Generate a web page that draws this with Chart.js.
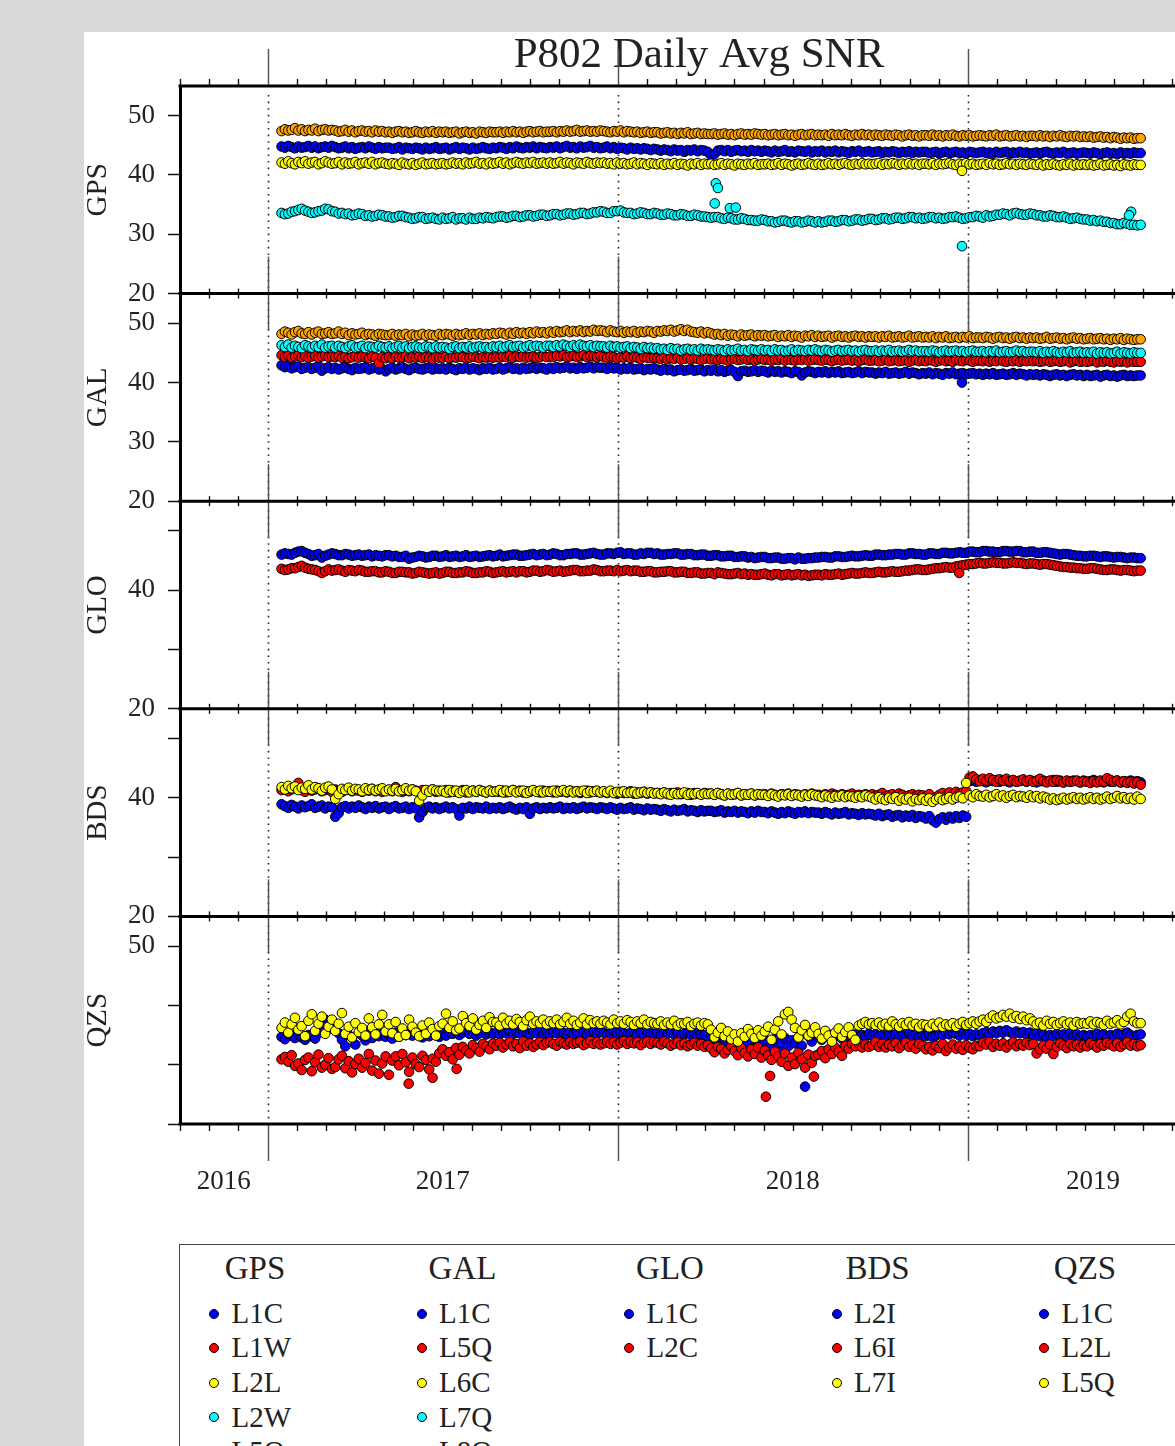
<!DOCTYPE html>
<html>
<head>
<meta charset="utf-8">
<title>P802 Daily Avg SNR</title>
<script src="https://cdn.jsdelivr.net/npm/chart.js@4.4.1/dist/chart.umd.min.js"></script>
<style>
  html, body { margin: 0; padding: 0; }
  body {
    width: 1175px; height: 1446px; overflow: hidden; position: relative;
    background: #d9d9d9; color: #222;
    font-family: "Liberation Serif", "Times New Roman", serif;
  }
  .sheet { position: absolute; left: 84px; top: 32px; width: 1400px; height: 1600px; background: #fff; }
  #snrChart { position: absolute; left: 84px; top: 32px; }
  .legend-box {
    position: absolute; left: 179px; top: 1244px; width: 1200px; height: 400px;
    border: 1.5px solid #444; box-sizing: border-box;
  }
  .legend-head { position: absolute; width: 140px; text-align: center; font-size: 33px; line-height: 33px; }
  .legend-item { position: absolute; font-size: 29px; line-height: 29px; white-space: nowrap; }
  .legend-dot {
    position: absolute; width: 10px; height: 10px; border-radius: 50%;
    border: 1px solid #000; box-sizing: border-box;
  }
</style>
</head>
<body>
<div class="sheet"></div>
<canvas id="snrChart" width="1220" height="1190"></canvas>
<div class="legend-box"></div>
<div id="legend"></div>
<script>
// twice-weekly samples of the daily averages, first one mid January 2017
const START_YEAR = 2017.04;
const STEP = 3.5 / 365.25;
const X_MIN = 2016.75;
const X_MAX = 2019.714;

const yearLines = [2017, 2018, 2019];
const yearLabels = ["2016", "2017", "2018", "2019"];
const yearLabelPos = [2016.875, 2017.5, 2018.5, 2019.357];

const systems = ["GPS", "GAL", "GLO", "BDS", "QZS"];
const yTicks = [20, 30, 40, 50];
const yLabelled = {
  GPS: [20, 30, 40, 50],
  GAL: [20, 30, 40, 50],
  GLO: [20, 40],
  BDS: [20, 40],
  QZS: [50],
};
const signals = {
  GPS: ["L1C", "L1W", "L2L", "L2W", "L5Q"],
  GAL: ["L1C", "L5Q", "L6C", "L7Q", "L8Q"],
  GLO: ["L1C", "L2C"],
  BDS: ["L2I", "L6I", "L7I"],
  QZS: ["L1C", "L2L", "L5Q"],
};
const signalColors = ["#0000ff", "#ff0000", "#ffff00", "#00ffff", "#ffa500"];

// ---- GPS ----
const gpsL1C = [
  44.8,44.6,44.9,44.7,44.5,44.8,44.6,44.7,44.9,44.6,44.8,44.5,44.7,44.8,44.6,44.9,
  44.7,44.5,44.6,44.8,44.5,44.7,44.4,44.6,44.7,44.5,44.8,44.6,44.4,44.7,44.5,44.6,
  44.6,44.4,44.5,44.7,44.3,44.6,44.5,44.4,44.6,44.5,44.3,44.6,44.4,44.5,44.7,44.4,
  44.5,44.6,44.3,44.5,44.7,44.4,44.6,44.5,44.3,44.6,44.4,44.5,44.7,44.5,44.4,44.6,
  44.5,44.7,44.6,44.4,44.7,44.5,44.8,44.6,44.5,44.7,44.6,44.8,44.5,44.7,44.6,44.5,
  44.7,44.6,44.8,44.5,44.7,44.9,44.6,44.7,44.5,44.8,44.6,44.7,44.9,44.6,44.7,44.5,
  44.6,44.8,44.5,44.7,44.4,44.6,44.5,44.3,44.6,44.4,44.5,44.3,44.5,44.4,44.2,44.4,
  44.3,44.1,44.3,44.2,44.0,44.3,44.1,44.2,43.9,44.2,44.1,44.3,44.0,44.2,44.1,43.9,
  43.3,43.5,44.1,44.2,44.0,44.2,43.9,44.1,44.2,44.0,44.1,43.9,44.2,44.0,44.1,43.9,
  44.1,44.0,43.8,44.1,43.9,44.0,44.2,43.9,44.0,43.8,44.1,44.0,43.9,44.1,43.8,44.0,
  43.9,44.1,43.8,44.0,43.9,44.1,43.8,44.0,43.9,43.7,44.0,43.9,44.1,43.8,43.9,44.0,
  43.8,43.9,44.0,43.7,43.9,43.8,44.0,43.9,43.7,43.9,43.8,44.0,43.7,43.9,43.8,43.9,
  43.9,43.7,43.8,43.9,43.6,43.8,43.9,43.7,43.8,43.9,43.7,43.8,43.6,43.9,43.8,43.7,
  43.8,43.9,43.7,43.8,43.6,43.9,43.7,43.8,43.9,43.6,43.8,43.7,43.9,43.7,43.8,43.6,
  43.7,43.8,43.6,43.8,43.9,43.7,43.6,43.8,43.7,43.9,43.6,43.7,43.8,43.6,43.7,43.8,
  43.7,43.6,43.8,43.7,43.5,43.7,43.8,43.6,43.7,43.5,43.8,43.6,43.7,43.6,43.8,43.7,
  43.7];
const gpsL1W = [];
const gpsL2L = [
  42.1,41.9,42.3,42.0,41.8,42.2,42.0,42.3,41.9,42.1,42.2,41.8,42.0,42.3,42.1,41.9,
  42.0,42.2,41.8,42.1,41.9,42.0,42.2,41.8,42.0,42.1,41.9,42.2,41.8,42.0,42.1,41.9,
  41.8,42.0,41.9,41.7,42.1,41.9,41.8,42.0,41.7,41.9,42.1,41.8,41.9,42.0,41.8,41.9,
  42.0,41.8,41.9,42.1,41.9,42.0,41.8,42.1,41.9,42.0,42.2,41.9,42.0,41.8,42.1,41.9,
  42.0,42.2,41.9,42.1,41.8,42.0,42.2,42.0,41.9,42.1,42.0,42.2,41.9,42.0,42.1,41.9,
  42.1,41.9,42.0,42.2,41.9,42.1,42.0,41.8,42.1,42.0,41.9,42.2,42.0,41.9,42.1,42.0,
  42.1,41.9,42.0,41.8,42.1,41.9,42.0,41.8,41.9,42.1,41.8,42.0,41.9,41.7,42.0,41.9,
  41.8,42.0,41.7,41.9,41.8,42.0,41.7,41.9,41.8,41.6,41.9,41.8,42.0,41.7,41.9,41.8,
  41.9,41.7,41.8,42.0,41.7,41.9,41.8,41.6,41.9,41.8,41.7,41.9,41.8,42.0,41.7,41.8,
  41.8,41.9,41.7,41.8,42.0,41.7,41.9,41.8,41.6,41.8,41.9,41.7,41.8,42.0,41.8,41.7,
  41.9,41.7,41.8,42.0,41.8,41.9,41.7,41.9,42.0,41.8,41.7,41.9,41.8,42.0,41.8,41.9,
  41.8,41.9,42.0,41.7,41.9,41.8,42.0,41.9,41.7,41.9,41.8,42.0,41.8,41.9,41.7,41.9,
  41.9,41.8,42.0,41.7,41.9,41.8,41.9,42.0,41.8,41.7,41.9,41.8,42.0,41.8,41.9,41.7,
  41.8,41.9,41.7,42.0,41.8,41.9,41.7,41.8,42.0,41.8,41.9,41.7,41.9,41.8,41.7,41.9,
  41.8,41.7,41.9,41.6,41.8,41.7,41.9,41.7,41.6,41.8,41.7,41.9,41.6,41.8,41.7,41.8,
  41.7,41.8,41.6,41.7,41.9,41.6,41.7,41.8,41.6,41.7,41.5,41.8,41.7,41.6,41.8,41.7,
  41.7];
const gpsL2W = [
  33.6,33.4,33.5,33.8,33.9,34.1,34.3,34.0,33.8,33.6,33.7,33.9,34.0,34.3,34.2,33.9,
  33.8,33.5,33.6,33.4,33.5,33.2,33.3,33.5,33.4,33.1,33.2,33.0,33.1,33.3,33.2,33.0,
  33.0,32.8,32.9,33.1,33.1,32.9,32.8,32.6,32.7,32.9,32.9,32.6,32.7,32.8,32.6,32.5,
  32.8,32.6,32.7,32.9,32.5,32.7,32.7,32.5,32.8,32.6,32.6,32.8,32.7,32.9,32.8,32.7,
  32.9,33.0,33.0,32.8,32.9,33.1,33.1,32.9,33.0,33.2,33.2,33.0,33.1,33.3,33.3,33.1,
  33.2,33.4,33.4,33.2,33.3,33.5,33.5,33.3,33.4,33.6,33.6,33.4,33.5,33.7,33.7,33.9,
  33.8,33.6,33.6,33.9,33.9,34.0,33.7,33.6,33.6,33.4,33.5,33.7,33.6,33.4,33.4,33.6,
  33.5,33.3,33.3,33.5,33.4,33.2,33.2,33.4,33.3,33.1,33.1,33.3,33.2,33.0,33.0,32.9,
  32.8,32.9,32.9,32.7,32.6,32.8,32.7,32.5,32.5,32.7,32.6,32.4,32.4,32.3,32.3,32.5,
  32.4,32.2,32.2,32.0,32.1,32.3,32.3,32.1,32.0,32.2,32.2,32.0,32.1,32.3,32.2,32.0,
  32.2,32.0,32.1,32.3,32.3,32.1,32.2,32.4,32.4,32.2,32.3,32.5,32.5,32.3,32.4,32.6,
  32.6,32.4,32.5,32.7,32.7,32.5,32.6,32.8,32.8,32.6,32.7,32.9,32.9,32.7,32.8,32.6,
  32.7,32.9,32.9,32.7,32.8,32.6,32.7,32.9,32.9,33.0,32.8,32.6,32.7,32.9,32.9,33.1,
  33.0,32.8,33.2,33.0,33.1,33.3,33.3,33.5,33.4,33.2,33.5,33.6,33.4,33.3,33.3,33.5,
  33.4,33.2,33.2,33.0,33.0,33.2,33.1,32.9,32.9,33.0,32.8,32.6,32.7,32.8,32.6,32.5,
  32.5,32.3,32.4,32.2,32.3,32.1,32.1,31.9,31.9,31.7,31.7,31.9,31.8,31.6,31.6,31.5,
  31.6];
const gpsL5Q = [
  47.4,47.7,47.5,47.6,47.9,47.5,47.7,47.4,47.6,47.5,47.8,47.4,47.6,47.7,47.5,47.6,
  47.5,47.3,47.4,47.6,47.3,47.5,47.2,47.4,47.5,47.3,47.4,47.2,47.5,47.3,47.4,47.2,
  47.3,47.1,47.3,47.4,47.2,47.3,47.1,47.2,47.4,47.2,47.1,47.3,47.2,47.4,47.1,47.3,
  47.2,47.3,47.1,47.2,47.3,47.0,47.2,47.3,47.1,47.2,47.0,47.3,47.2,47.1,47.3,47.2,
  47.2,47.3,47.1,47.3,47.2,47.4,47.2,47.3,47.1,47.3,47.4,47.2,47.3,47.4,47.2,47.3,
  47.3,47.4,47.2,47.4,47.3,47.5,47.3,47.4,47.6,47.3,47.4,47.5,47.3,47.4,47.3,47.5,
  47.4,47.3,47.2,47.4,47.3,47.5,47.2,47.4,47.3,47.2,47.3,47.1,47.2,47.3,47.1,47.2,
  47.2,47.0,47.1,47.2,47.0,47.1,46.9,47.1,47.0,47.2,46.9,47.0,47.1,46.9,47.0,46.9,
  46.9,47.0,46.8,46.9,47.0,46.8,46.9,46.7,46.9,47.0,46.8,46.9,46.8,47.0,46.9,46.8,
  46.9,46.7,46.8,46.9,46.7,46.8,46.9,46.7,46.8,46.6,46.8,46.9,46.7,46.8,46.9,46.7,
  46.8,46.7,46.8,46.6,46.9,46.7,46.8,46.7,46.9,46.7,46.6,46.8,46.7,46.9,46.7,46.8,
  46.6,46.8,46.7,46.6,46.8,46.7,46.6,46.8,46.7,46.5,46.7,46.8,46.6,46.7,46.5,46.7,
  46.7,46.6,46.8,46.6,46.7,46.5,46.7,46.6,46.8,46.6,46.5,46.7,46.6,46.7,46.5,46.6,
  46.7,46.6,46.5,46.7,46.6,46.8,46.5,46.6,46.7,46.5,46.6,46.7,46.5,46.6,46.4,46.6,
  46.6,46.5,46.7,46.5,46.6,46.4,46.6,46.5,46.7,46.5,46.4,46.6,46.5,46.6,46.4,46.5,
  46.4,46.5,46.3,46.4,46.5,46.3,46.4,46.2,46.4,46.3,46.1,46.3,46.2,46.3,46.1,46.2,
  46.2];

// ---- GAL ----
const galL1C = [
  42.9,42.6,42.8,42.4,42.6,42.7,42.3,42.5,42.6,42.3,42.5,42.8,42.0,42.4,42.6,42.3,
  42.5,42.2,42.4,42.6,42.3,42.1,42.5,42.3,42.4,42.6,42.2,42.4,42.5,42.2,42.3,41.9,
  42.3,42.5,42.2,42.4,42.6,42.3,42.1,42.4,42.5,42.3,42.2,42.4,42.5,42.2,42.4,42.3,
  42.4,42.2,42.5,42.3,42.1,42.4,42.3,42.5,42.2,42.4,42.3,42.1,42.4,42.3,42.5,42.2,
  42.3,42.5,42.2,42.4,42.6,42.3,42.4,42.2,42.5,42.3,42.4,42.6,42.3,42.5,42.4,42.2,
  42.5,42.3,42.6,42.4,42.5,42.7,42.4,42.5,42.3,42.6,42.4,42.5,42.7,42.4,42.6,42.5,
  42.5,42.3,42.6,42.4,42.5,42.2,42.4,42.3,42.5,42.2,42.3,42.4,42.1,42.3,42.2,42.4,
  42.2,42.0,42.3,42.1,42.2,41.9,42.1,42.2,42.0,42.1,42.3,42.0,42.1,42.2,41.9,42.1,
  42.0,42.2,41.9,42.1,41.8,42.0,42.1,41.8,41.1,41.9,42.0,41.8,41.9,42.1,41.8,42.0,
  41.9,41.7,42.0,41.8,41.9,41.7,41.9,41.8,41.6,41.9,41.8,41.2,41.7,41.9,41.8,41.6,
  41.8,41.7,41.9,41.6,41.8,41.7,41.9,41.6,41.7,41.8,41.6,41.7,41.9,41.6,41.8,41.7,
  41.7,41.5,41.7,41.6,41.8,41.5,41.6,41.7,41.5,41.6,41.8,41.5,41.7,41.6,41.4,41.6,
  41.5,41.7,41.4,41.6,41.5,41.3,41.6,41.5,41.7,41.4,41.5,41.6,41.4,41.5,41.6,41.4,
  41.5,41.3,41.5,41.4,41.6,41.3,41.4,41.5,41.3,41.4,41.6,41.3,41.5,41.4,41.2,41.4,
  41.3,41.4,41.2,41.4,41.3,41.1,41.3,41.4,41.2,41.3,41.1,41.3,41.4,41.2,41.3,41.1,
  41.3,41.1,41.2,41.3,41.0,41.2,41.3,41.1,41.2,41.0,41.2,41.3,41.1,41.2,41.1,41.2,
  41.2];
const galL5Q = [
  44.6,44.3,44.5,44.2,44.4,44.6,44.3,44.5,44.2,44.4,44.5,44.2,44.4,44.6,44.3,44.4,
  44.3,44.5,44.2,44.4,44.1,44.3,44.5,44.2,44.4,44.3,44.1,44.4,44.2,43.3,44.3,44.1,
  44.3,44.1,44.4,44.2,44.3,44.5,44.1,44.3,44.2,44.4,44.1,44.3,44.2,44.0,44.3,44.2,
  44.2,44.4,44.1,44.3,44.2,44.4,44.3,44.1,44.2,44.4,44.3,44.1,44.3,44.2,44.4,44.2,
  44.3,44.2,44.4,44.3,44.5,44.2,44.4,44.3,44.5,44.2,44.3,44.4,44.2,44.3,44.5,44.3,
  44.4,44.3,44.5,44.4,44.6,44.3,44.4,44.5,44.3,44.4,44.6,44.3,44.5,44.4,44.3,44.5,
  44.3,44.2,44.4,44.3,44.1,44.3,44.2,44.4,44.1,44.3,44.2,44.0,44.3,44.2,44.1,44.2,
  44.1,44.0,44.2,43.9,44.1,44.0,44.2,43.9,44.0,44.1,43.9,44.1,44.0,43.8,44.0,44.1,
  43.9,44.0,43.8,44.0,43.9,43.7,43.9,44.0,43.8,43.9,44.1,43.8,43.9,43.7,43.9,44.0,
  43.8,43.9,43.7,43.9,43.8,44.0,43.7,43.9,43.8,43.7,43.9,43.8,44.0,43.7,43.8,43.9,
  43.8,43.7,43.9,43.8,43.6,43.8,43.9,43.7,43.8,43.9,43.7,43.8,43.6,43.8,43.9,43.7,
  43.7,43.8,43.6,43.7,43.9,43.6,43.7,43.8,43.6,43.7,43.8,43.5,43.7,43.8,43.6,43.7,
  43.6,43.8,43.7,43.5,43.7,43.8,43.6,43.7,43.5,43.8,43.7,43.6,43.8,43.7,43.5,43.7,
  43.7,43.6,43.8,43.5,43.7,43.6,43.8,43.6,43.5,43.7,43.6,43.8,43.5,43.7,43.6,43.7,
  43.6,43.7,43.5,43.6,43.8,43.5,43.6,43.7,43.5,43.6,43.7,43.4,43.6,43.7,43.5,43.6,
  43.5,43.6,43.7,43.4,43.6,43.5,43.7,43.5,43.4,43.6,43.5,43.6,43.4,43.6,43.5,43.5,
  43.5];
const galL6C = [];
const galL7Q = [
  46.3,46.0,46.4,45.9,46.2,46.0,45.8,46.3,46.1,45.9,46.2,46.0,46.4,45.9,46.1,46.2,
  45.9,46.2,46.0,45.8,46.1,46.3,45.9,46.0,46.2,45.8,46.1,46.0,45.9,46.2,46.0,45.9,
  46.1,45.8,46.0,46.2,45.9,46.1,45.8,46.0,46.1,45.9,45.8,46.1,46.0,45.8,46.1,45.9,
  46.0,45.9,45.7,46.0,46.1,45.8,46.0,45.9,46.1,45.8,46.0,46.1,45.9,46.0,45.8,46.1,
  46.0,46.2,45.9,46.1,46.3,46.0,46.1,46.2,45.9,46.1,46.3,46.0,46.2,46.1,45.9,46.2,
  46.2,46.0,46.3,46.1,46.4,46.2,46.0,46.3,46.1,46.4,46.2,46.1,46.3,46.0,46.2,46.1,
  46.1,45.9,46.2,46.0,46.1,45.9,46.0,46.1,45.8,46.0,45.9,45.7,46.0,45.8,45.9,45.7,
  45.8,45.6,45.7,45.5,45.8,45.6,45.7,45.4,45.6,45.7,45.5,45.6,45.4,45.7,45.5,45.6,
  45.5,45.4,45.6,45.5,45.3,45.6,45.4,45.5,45.7,45.4,45.5,45.3,45.6,45.5,45.4,45.6,
  45.4,45.5,45.3,45.6,45.4,45.5,45.3,45.4,45.6,45.3,45.5,45.4,45.3,45.5,45.4,45.6,
  45.4,45.3,45.5,45.4,45.2,45.4,45.5,45.3,45.4,45.5,45.3,45.4,45.2,45.4,45.5,45.3,
  45.3,45.4,45.2,45.4,45.3,45.5,45.2,45.3,45.4,45.2,45.3,45.5,45.3,45.4,45.2,45.3,
  45.3,45.2,45.4,45.3,45.1,45.3,45.4,45.2,45.3,45.4,45.2,45.3,45.1,45.3,45.4,45.2,
  45.2,45.3,45.1,45.3,45.2,45.4,45.1,45.2,45.3,45.1,45.2,45.4,45.2,45.3,45.1,45.2,
  45.2,45.1,45.3,45.0,45.2,45.1,45.3,45.1,45.0,45.2,45.1,45.3,45.0,45.1,45.2,45.0,
  45.1,45.0,45.2,44.9,45.1,45.0,45.1,44.9,45.0,45.2,44.9,45.1,45.0,44.9,45.1,45.0,
  45.0];
const galL8Q = [
  48.2,48.6,48.4,48.1,48.5,48.7,48.3,48.2,48.5,48.1,48.4,48.6,48.2,48.3,48.5,48.2,
  48.3,48.6,48.2,48.4,48.0,48.3,48.1,48.2,48.4,48.0,48.2,48.1,47.9,48.2,48.1,48.0,
  48.0,48.2,47.9,48.1,48.0,48.2,47.8,48.1,47.9,48.0,48.2,47.9,48.1,48.0,47.9,48.2,
  48.0,48.2,48.1,47.9,48.2,48.0,48.1,48.3,48.0,48.2,48.1,48.3,48.0,48.2,48.1,48.3,
  48.2,48.4,48.3,48.1,48.4,48.2,48.5,48.3,48.4,48.2,48.5,48.3,48.6,48.4,48.5,48.3,
  48.6,48.4,48.7,48.5,48.6,48.8,48.5,48.7,48.6,48.8,48.5,48.7,48.6,48.9,48.7,48.8,
  48.7,48.5,48.8,48.6,48.5,48.7,48.4,48.6,48.5,48.7,48.4,48.6,48.5,48.7,48.6,48.4,
  48.7,48.6,48.8,48.7,48.9,48.6,48.8,49.0,48.7,48.9,48.6,48.5,48.4,48.6,48.3,48.5,
  48.3,48.1,48.2,48.0,48.2,47.9,48.1,48.0,47.8,48.1,47.9,48.0,48.1,47.8,48.0,47.9,
  48.0,47.8,47.9,48.0,47.7,47.9,47.8,48.0,47.7,47.9,47.8,47.6,47.9,47.8,48.0,47.7,
  47.9,47.7,47.8,47.9,47.6,47.8,47.9,47.7,47.8,47.6,47.8,47.9,47.7,47.8,47.6,47.8,
  47.7,47.8,47.6,47.8,47.7,47.9,47.6,47.7,47.8,47.6,47.7,47.9,47.6,47.7,47.8,47.6,
  47.7,47.6,47.8,47.5,47.7,47.6,47.8,47.5,47.6,47.7,47.5,47.7,47.6,47.8,47.5,47.6,
  47.6,47.5,47.7,47.6,47.4,47.6,47.7,47.5,47.6,47.4,47.6,47.7,47.5,47.6,47.4,47.6,
  47.5,47.6,47.4,47.5,47.7,47.4,47.5,47.6,47.4,47.5,47.3,47.5,47.6,47.4,47.5,47.3,
  47.4,47.5,47.3,47.4,47.5,47.3,47.4,47.2,47.4,47.3,47.5,47.2,47.4,47.3,47.2,47.3,
  47.3];

// ---- GLO ----
const gloL1C = [
  46.0,46.2,46.1,46.0,46.3,46.5,46.6,46.3,46.1,45.8,45.9,46.1,45.5,45.8,46.0,46.2,
  46.1,45.9,45.9,46.1,46.0,45.8,45.9,46.0,45.8,45.9,46.0,45.7,45.9,45.8,45.7,45.9,
  45.9,45.7,45.8,45.6,45.6,45.8,45.3,45.5,45.6,45.8,45.7,45.5,45.6,45.8,45.8,45.6,
  45.7,45.9,45.6,45.7,45.8,45.6,45.7,45.9,45.6,45.7,45.8,45.6,45.7,45.8,45.9,45.7,
  45.8,46.0,45.7,45.8,45.9,46.0,46.0,45.8,45.8,45.9,46.0,46.1,45.9,46.0,46.1,45.9,
  46.0,46.2,46.1,45.9,45.9,46.1,46.1,46.2,46.2,46.0,46.0,46.1,46.2,46.3,46.1,46.0,
  46.0,46.2,46.2,46.1,46.3,46.4,46.1,46.2,46.2,46.0,46.0,46.2,46.1,46.3,46.3,46.1,
  46.2,46.0,46.0,46.1,46.1,46.2,46.2,46.0,46.0,46.1,46.1,45.9,45.9,46.0,46.0,45.8,
  45.8,45.9,45.9,45.7,45.7,45.8,45.8,45.6,45.6,45.7,45.7,45.5,45.6,45.4,45.5,45.6,
  45.6,45.4,45.4,45.5,45.5,45.3,45.3,45.4,45.4,45.2,45.5,45.3,45.3,45.4,45.4,45.5,
  45.5,45.6,45.6,45.5,45.5,45.7,45.7,45.6,45.6,45.7,45.8,45.7,45.7,45.8,45.9,45.8,
  45.8,46.0,46.0,45.9,45.9,46.0,46.0,46.1,46.1,46.0,46.0,46.2,46.2,46.1,46.1,46.0,
  46.0,46.2,46.2,46.1,46.1,46.3,46.3,46.2,46.2,46.3,46.4,46.3,46.3,46.5,46.5,46.4,
  46.4,46.6,46.6,46.5,46.5,46.4,46.4,46.6,46.6,46.5,46.5,46.6,46.6,46.4,46.4,46.5,
  46.5,46.3,46.3,46.4,46.4,46.3,46.2,46.1,46.0,46.1,46.1,46.0,45.9,45.8,45.8,45.7,
  45.7,45.8,45.8,45.7,45.6,45.7,45.7,45.6,45.5,45.6,45.6,45.5,45.4,45.5,45.5,45.4,
  45.4];
const gloL2C = [
  43.6,43.4,43.5,43.7,43.7,43.9,44.1,43.8,43.6,43.5,43.4,43.2,42.9,43.2,43.5,43.3,
  43.4,43.5,43.3,43.1,43.4,43.3,43.2,43.4,43.3,43.1,43.1,43.2,43.2,43.0,43.0,43.2,
  43.1,42.9,42.9,43.1,43.1,43.0,43.0,42.8,42.9,43.1,43.0,42.9,42.8,42.9,43.0,42.8,
  42.9,43.1,43.1,42.9,42.9,43.0,43.0,43.2,43.1,42.9,42.9,43.0,43.0,43.2,43.1,42.9,
  43.0,43.1,43.2,43.0,43.1,43.2,43.0,43.2,43.2,43.0,43.1,43.3,43.3,43.1,43.2,43.4,
  43.3,43.1,43.2,43.3,43.1,43.2,43.3,43.4,43.4,43.2,43.2,43.3,43.3,43.5,43.4,43.2,
  43.2,43.3,43.3,43.2,43.4,43.2,43.3,43.4,43.2,43.3,43.3,43.1,43.1,43.2,43.2,43.0,
  43.0,43.1,43.1,43.2,43.2,43.0,43.0,43.1,43.1,42.9,42.9,43.0,43.0,42.8,42.8,42.9,
  42.9,42.7,43.0,42.9,42.8,42.7,42.7,42.8,42.9,42.7,42.8,42.6,42.7,42.6,42.6,42.7,
  42.8,42.6,42.5,42.7,42.7,42.5,42.6,42.7,42.5,42.6,42.7,42.5,42.6,42.4,42.5,42.6,
  42.6,42.5,42.7,42.6,42.6,42.7,42.8,42.6,42.7,42.8,42.9,42.8,42.8,42.9,43.0,42.9,
  42.9,43.0,43.1,43.0,43.0,43.1,43.2,43.1,43.1,43.2,43.3,43.3,43.4,43.5,43.5,43.4,
  43.4,43.5,43.6,43.7,43.7,43.8,43.9,43.8,43.8,44.0,44.1,44.2,44.3,44.4,44.4,44.5,
  44.6,44.5,44.5,44.6,44.7,44.6,44.6,44.5,44.5,44.6,44.7,44.6,44.6,44.5,44.4,44.5,
  44.5,44.4,44.3,44.4,44.4,44.3,44.2,44.1,44.0,43.9,43.9,43.8,43.8,43.7,43.7,43.6,
  43.6,43.7,43.7,43.6,43.5,43.4,43.4,43.5,43.5,43.4,43.3,43.4,43.4,43.3,43.2,43.3,
  43.3];

// ---- BDS ---- (first 205 samples before 2019, 52 after)
const bdsL2I = [
  38.9,38.6,38.3,38.8,38.5,38.2,38.7,38.4,38.6,38.9,38.3,38.5,38.7,38.2,38.5,38.4,
  36.8,37.4,38.4,38.6,38.2,38.5,38.3,38.7,38.4,38.1,38.5,38.3,38.6,38.2,38.4,38.5,
  38.1,38.4,38.6,38.2,38.3,38.5,38.1,38.4,38.2,36.7,37.6,38.3,38.5,38.2,38.4,38.1,
  38.3,38.5,38.2,38.4,38.1,37.0,38.3,38.2,38.5,38.1,38.4,38.3,38.2,38.5,38.1,38.3,
  38.2,38.4,38.1,38.3,38.5,38.2,38.0,38.3,38.1,38.4,37.3,38.2,38.4,38.1,38.3,38.2,
  38.4,38.2,38.3,38.5,38.1,38.3,38.2,38.4,38.1,38.3,38.5,38.2,38.4,38.3,38.1,38.4,
  38.3,38.1,38.4,38.2,38.0,38.3,38.1,38.2,38.4,38.0,38.2,38.1,37.9,38.2,38.0,38.1,
  38.0,37.8,38.1,37.9,37.7,38.0,37.8,37.9,38.1,37.7,37.9,37.8,37.6,37.9,37.7,37.8,
  37.8,37.6,37.7,37.9,37.5,37.7,37.6,37.8,37.5,37.7,37.6,37.4,37.7,37.5,37.8,37.6,
  37.6,37.4,37.7,37.5,37.3,37.6,37.4,37.7,37.5,37.3,37.6,37.5,37.7,37.4,37.6,37.5,
  37.5,37.3,37.6,37.4,37.2,37.5,37.3,37.4,37.6,37.2,37.4,37.3,37.1,37.4,37.2,37.3,
  37.2,37.0,37.3,36.9,37.1,37.2,36.8,37.0,37.1,36.7,37.0,36.8,37.1,36.6,36.9,36.8,
  36.5,36.9,36.2,35.8,36.4,36.7,36.3,36.8,36.5,36.9,36.6,37.0,36.8,
  42.8,42.9,42.7,43.0,42.8,42.6,42.9,42.8,43.0,42.7,42.9,42.8,42.6,42.9,42.7,42.8,
  43.0,42.7,42.9,42.8,42.6,42.8,42.9,42.7,42.8,43.0,42.7,42.9,42.6,42.8,42.7,42.9,
  42.8,42.6,42.9,42.7,42.8,43.0,42.7,42.8,42.6,42.9,42.7,42.8,42.9,42.6,42.8,42.7,
  42.9,42.7,42.8,42.6];
const bdsL6I = [
  41.3,41.6,41.1,41.4,41.7,42.5,41.3,41.0,41.5,41.2,41.4,41.6,41.1,41.3,41.5,41.0,
  41.4,41.2,41.0,41.3,41.5,41.1,41.3,41.2,41.0,41.4,41.2,41.5,41.1,41.3,41.0,41.2,
  41.3,41.1,41.8,41.2,41.0,41.3,41.1,41.4,41.2,41.0,41.3,41.1,41.2,41.4,41.0,41.2,
  41.1,41.3,40.9,41.2,41.0,41.1,41.3,40.9,41.1,41.2,41.0,41.3,41.1,40.9,41.2,41.0,
  41.1,41.0,41.2,40.9,41.1,41.3,41.0,41.2,40.9,41.1,41.0,41.2,41.1,40.9,41.2,41.0,
  41.1,40.9,41.2,41.0,41.1,40.9,41.2,41.0,41.1,40.8,41.0,41.2,40.9,41.1,41.0,40.9,
  41.0,40.8,41.1,40.9,40.7,41.0,40.8,40.9,41.1,40.7,40.9,40.8,41.0,40.7,40.9,40.8,
  40.8,40.7,40.9,40.6,40.8,40.7,40.9,40.6,40.7,40.8,40.5,40.8,40.7,40.6,40.8,40.7,
  40.7,40.5,40.8,40.6,40.4,40.7,40.5,40.6,40.8,40.4,40.6,40.5,40.7,40.4,40.6,40.5,
  40.6,40.4,40.7,40.5,40.3,40.6,40.5,40.7,40.4,40.6,40.5,40.3,40.6,40.4,40.7,40.5,
  40.5,40.3,40.6,40.4,40.7,40.5,40.3,40.6,40.4,40.5,40.7,40.3,40.5,40.4,40.6,40.4,
  40.6,40.3,40.5,40.8,40.2,40.4,40.6,40.3,40.7,40.5,40.2,40.4,40.6,40.3,40.5,40.4,
  40.2,40.6,39.6,40.1,40.5,40.8,40.3,40.9,40.6,41.0,40.7,40.9,41.1,
  43.4,43.6,43.1,42.8,43.2,42.9,43.3,43.0,42.7,43.1,42.9,43.2,42.8,43.0,42.7,42.9,
  43.1,42.8,43.0,42.7,42.9,43.2,42.8,42.6,42.9,42.7,43.0,42.8,42.6,42.9,42.7,42.8,
  42.9,42.6,42.8,42.7,42.5,42.8,42.6,42.9,42.7,43.3,43.0,42.7,42.9,42.6,42.8,42.5,
  42.7,42.4,42.6,42.2];
const bdsL7I = [
  41.8,41.4,42.0,41.6,41.9,41.3,41.7,41.5,42.1,41.4,41.8,41.6,41.2,41.7,41.9,41.4,
  39.8,40.6,41.5,41.3,41.7,41.2,41.5,41.4,41.1,41.6,41.3,41.5,41.2,41.4,41.6,41.1,
  41.4,41.2,41.5,41.1,41.3,41.6,41.2,41.4,41.1,39.5,40.4,41.3,41.0,41.4,41.2,41.1,
  41.2,40.9,41.3,41.0,41.2,40.8,41.1,41.3,40.9,41.2,41.0,41.3,41.1,40.9,41.2,41.0,
  41.1,41.3,40.9,41.2,41.0,41.3,40.9,41.1,41.2,40.8,41.1,41.3,41.0,41.2,40.9,41.1,
  41.0,41.2,40.9,41.1,41.3,41.0,41.2,40.9,41.1,41.0,41.2,40.8,41.1,41.0,41.2,40.9,
  41.1,40.9,41.2,40.8,41.0,40.9,41.1,40.8,40.9,41.0,40.7,40.9,41.0,40.8,40.9,40.7,
  40.8,40.6,40.9,40.7,40.5,40.8,40.6,40.7,40.9,40.5,40.7,40.6,40.8,40.5,40.7,40.6,
  40.7,40.5,40.8,40.6,40.4,40.7,40.5,40.6,40.8,40.4,40.6,40.5,40.7,40.4,40.6,40.5,
  40.5,40.3,40.6,40.4,40.2,40.5,40.4,40.6,40.3,40.5,40.4,40.2,40.5,40.3,40.6,40.4,
  40.3,40.1,40.4,40.2,40.0,40.3,40.2,40.4,40.1,40.3,40.2,40.0,40.3,40.1,40.4,40.2,
  40.0,39.7,40.1,39.8,39.6,40.0,39.8,40.1,39.5,39.9,39.7,40.0,39.4,39.8,39.6,39.9,
  39.5,39.9,39.3,39.7,40.0,39.6,39.8,40.1,39.7,40.0,40.2,39.9,42.5,
  40.4,40.1,40.6,40.3,40.2,40.5,40.1,40.3,40.6,40.2,40.4,40.0,40.3,40.5,40.1,40.3,
  40.2,40.0,40.4,40.1,40.3,39.9,40.2,40.0,39.7,39.9,39.6,39.8,40.0,39.7,39.9,40.1,
  39.8,40.0,39.7,39.9,40.1,39.8,40.0,39.7,39.9,40.2,39.8,40.0,40.3,39.9,40.1,39.8,
  40.0,39.7,40.2,39.8];

// ---- QZS ----
const qzsL1C = [
  34.7,34.3,35.2,34.9,34.5,35.1,34.6,34.2,35.0,34.8,34.4,35.3,36.8,37.6,37.2,36.1,
  35.9,35.3,34.2,33.1,35.0,34.6,33.4,35.3,34.9,34.1,35.6,34.5,35.2,34.8,35.4,34.7,
  35.1,34.4,35.4,34.7,35.3,35.0,35.6,34.9,35.4,35.1,34.6,35.2,34.8,35.5,35.0,34.7,
  35.3,34.9,35.5,35.2,35.6,35.0,35.4,35.7,35.2,35.5,34.9,35.3,35.6,35.1,35.4,35.2,
  35.4,35.1,35.6,35.3,35.7,35.2,35.5,35.3,35.6,35.4,35.0,35.5,35.3,35.7,35.2,35.4,
  35.2,35.5,35.3,35.7,35.4,35.1,35.5,35.2,35.6,35.3,35.5,35.1,35.4,35.6,35.2,35.5,
  35.4,35.1,35.3,35.6,35.2,35.5,35.3,35.0,35.4,35.6,35.2,35.4,35.1,35.5,35.3,35.2,
  35.3,35.0,35.4,35.2,35.5,35.1,35.3,34.9,35.2,35.4,35.0,35.3,34.8,35.1,35.0,34.7,
  34.8,34.1,34.4,33.8,34.2,33.6,34.0,32.9,33.5,34.3,32.6,33.8,34.2,33.1,33.9,33.4,
  33.7,34.0,33.3,34.3,32.8,33.7,34.5,33.1,34.1,33.6,34.6,33.2,26.3,34.8,33.9,35.0,
  34.7,34.2,34.9,35.1,34.6,34.8,35.0,34.4,35.2,34.7,34.9,35.1,34.6,35.0,34.8,35.2,
  34.9,35.1,34.8,35.0,34.7,35.2,34.9,35.1,34.6,35.0,34.8,35.3,34.9,35.1,34.7,35.0,
  34.8,35.1,34.7,34.9,35.2,35.0,35.4,35.1,35.5,35.2,34.9,35.3,35.0,35.2,34.8,35.1,
  35.0,35.3,35.5,35.2,35.6,35.3,35.7,35.4,35.8,35.5,35.2,35.6,35.3,35.5,35.1,35.4,
  35.0,35.3,34.8,35.1,34.6,35.0,34.8,35.2,34.9,35.1,34.7,35.3,34.9,35.1,34.6,35.0,
  34.8,35.0,34.7,35.2,34.9,35.1,34.6,35.0,34.8,35.2,34.9,35.1,35.4,35.0,34.7,35.0,
  35.1];
const qzsL2L = [
  30.9,31.3,30.5,31.6,29.8,30.2,29.1,30.8,31.2,28.9,30.4,31.7,29.5,30.0,31.1,29.3,
  29.6,30.9,31.5,29.4,30.6,28.7,30.1,31.0,29.5,30.3,31.8,29.0,30.7,28.5,30.2,31.4,
  28.3,30.7,31.4,29.9,31.8,30.4,28.8,31.2,30.1,29.6,31.5,30.8,29.2,31.0,30.5,31.9,
  32.6,31.5,32.1,30.9,32.8,31.7,33.0,32.4,31.9,33.3,32.8,32.2,33.5,33.1,32.6,33.6,
  33.2,33.7,32.9,33.4,33.8,33.1,33.5,32.8,33.9,33.2,33.6,33.0,33.4,33.8,33.3,33.7,
  33.8,33.5,33.2,33.9,33.6,33.4,33.8,33.5,33.7,33.9,33.3,33.6,34.0,33.5,33.8,33.4,
  33.6,33.9,33.5,33.8,33.4,33.7,34.0,33.5,33.9,33.6,33.8,33.3,33.7,33.9,33.5,33.8,
  33.7,33.4,33.9,33.6,33.2,33.5,33.8,33.3,33.6,33.1,33.4,33.7,33.2,33.5,33.0,33.3,
  32.8,32.1,33.0,32.7,31.9,32.5,33.1,32.3,31.6,32.8,32.0,31.4,32.6,31.8,32.9,31.2,
  32.4,31.6,30.8,32.2,31.4,30.5,31.9,29.8,31.2,30.1,32.0,30.9,29.5,31.7,30.3,31.5,
  31.7,32.3,31.1,32.6,31.8,32.9,32.2,31.5,33.2,32.7,33.5,33.1,33.6,32.9,33.4,33.0,
  33.3,33.8,33.0,33.5,32.9,33.4,33.1,33.6,32.8,33.3,33.7,33.0,33.4,32.7,33.5,33.2,
  32.6,33.0,32.4,33.2,32.8,33.5,32.3,32.9,33.4,32.7,33.1,32.5,33.3,32.9,32.6,33.2,
  33.1,33.7,33.4,33.8,33.0,33.5,33.2,33.6,32.9,33.4,33.8,33.1,33.5,33.2,33.7,33.3,
  33.5,31.9,32.6,33.2,32.7,33.4,31.8,33.0,33.6,33.2,32.8,33.5,33.1,33.4,32.9,33.3,
  33.1,33.6,33.3,32.9,33.5,33.2,33.7,33.4,33.1,33.6,33.0,33.4,33.8,33.2,33.5,33.1,
  33.3];
const qzsL5Q = [
  36.2,37.1,35.4,36.8,37.9,35.9,36.5,34.8,37.4,38.5,35.7,36.9,38.1,35.2,36.4,37.6,
  35.7,36.9,38.7,35.2,36.4,34.6,37.0,35.5,36.2,34.9,37.8,36.3,35.1,36.8,38.4,35.6,
  36.8,35.3,37.2,34.7,36.1,35.0,37.6,36.4,35.4,34.8,36.6,35.2,37.1,36.0,34.9,36.5,
  36.9,38.6,36.2,37.3,35.8,36.1,38.2,37.0,36.5,37.8,35.9,36.7,37.4,36.2,38.0,37.2,
  37.1,36.6,37.9,36.9,37.4,36.8,37.7,37.2,36.5,37.5,38.1,36.9,37.3,37.0,37.6,36.8,
  37.3,37.0,37.6,36.8,37.2,37.9,36.9,37.4,36.7,37.1,37.8,36.8,37.5,37.0,37.3,36.9,
  37.4,37.1,36.8,37.6,37.0,37.3,36.9,37.5,37.2,36.7,37.3,37.0,37.6,36.8,37.2,37.0,
  36.9,37.3,36.7,37.1,36.8,37.4,36.6,37.0,36.9,37.2,36.5,36.9,37.1,36.6,37.0,36.8,
  35.9,34.6,35.4,36.2,34.8,35.6,34.3,35.1,33.9,35.3,34.7,36.0,35.2,34.5,35.8,34.9,
  35.6,36.4,34.2,35.9,37.3,35.1,38.5,38.9,37.6,36.2,34.6,35.8,36.7,34.9,35.4,36.3,
  35.2,34.4,35.7,34.9,33.9,35.4,36.1,34.7,35.5,36.3,35.0,34.2,36.6,36.9,37.2,36.8,
  37.0,36.7,37.1,36.6,36.9,36.5,37.3,36.8,36.4,37.0,36.7,37.2,36.6,36.9,36.3,36.8,
  36.7,36.3,36.9,36.5,37.1,36.4,36.8,36.6,37.0,36.4,36.9,37.2,36.7,37.0,37.3,36.9,
  37.3,37.6,37.2,37.9,38.3,37.8,38.0,38.4,38.1,38.6,37.9,38.2,37.7,38.1,37.5,37.8,
  37.3,36.8,37.1,36.6,37.4,36.9,37.2,36.7,37.0,37.3,36.8,37.1,36.6,37.2,36.9,37.0,
  36.9,37.3,36.8,37.2,37.0,36.7,37.4,36.9,37.1,37.5,36.8,37.2,38.1,38.6,37.3,37.0,
  37.0];

// isolated days off the sampling grid: [decimal year, SNR]
const outliers = {
  "GPS L2L": [[2018.983, 40.7]],
  "GPS L2W": [[2018.28, 38.6], [2018.286, 37.8], [2018.277, 35.2], [2018.32, 34.4],
              [2018.337, 34.5], [2018.983, 28.0], [2019.466, 33.8], [2019.46, 33.2]],
  "GAL L1C": [[2018.983, 40.0]],
  "GLO L2C": [[2018.975, 42.9]],
  "QZS L2L": [[2018.423, 24.6], [2018.435, 28.1], [2018.56, 28.0], [2017.403, 26.8],
              [2017.471, 27.8], [2017.54, 29.3]],
};

const series = {
  GPS: [gpsL1C, gpsL1W, gpsL2L, gpsL2W, gpsL5Q],
  GAL: [galL1C, galL5Q, galL6C, galL7Q, galL8Q],
  GLO: [gloL1C, gloL2C],
  BDS: [bdsL2I, bdsL6I, bdsL7I],
  QZS: [qzsL1C, qzsL2L, qzsL5Q],
};

const FONT = '"Liberation Serif", "Times New Roman", serif';
Chart.defaults.font.family = FONT;
Chart.defaults.color = "#222";

function buildDatasets() {
  const out = [];
  systems.forEach((sys) => {
    signals[sys].forEach((sig, k) => {
      const pts = series[sys][k].map((v, i) => ({ x: START_YEAR + i * STEP, y: v }));
      (outliers[sys + " " + sig] || []).forEach(([x, y]) => pts.push({ x, y }));
      out.push({
        label: sys + " " + sig,
        data: pts,
        xAxisID: "x",
        yAxisID: "y" + sys,
        showLine: false,
        pointStyle: "circle",
        pointRadius: 4.8,
        pointBorderWidth: 1,
        pointBorderColor: "#000",
        pointBackgroundColor: signalColors[k],
        // later signals of a panel are painted on top
        order: 10 - k,
      });
    });
  });
  return out;
}

function yScale(sys, weight) {
  return {
    type: "linear",
    position: "left",
    stack: "snr",
    stackWeight: 1,
    weight: weight,
    min: 20,
    max: 55,
    afterBuildTicks: (s) => {
      s.ticks = yTicks.map((v) => ({ value: v }));
    },
    afterFit: (s) => {
      s.width = 96;
    },
    ticks: {
      autoSkip: false,
      padding: 13,
      color: "#222",
      font: { size: 27 },
      callback: (v) => (yLabelled[sys].includes(v) ? String(v) : ""),
    },
    grid: {
      drawOnChartArea: false,
      drawTicks: true,
      tickLength: 12,
      tickWidth: 1.5,
      tickColor: "#111",
    },
    border: { display: true, width: 3, color: "#000" },
    title: {
      display: true,
      text: sys,
      color: "#222",
      font: { size: 29, lineHeight: 1 },
      padding: { top: 0, bottom: 0 },
    },
  };
}

const scales = {
  x: {
    type: "linear",
    position: "bottom",
    min: X_MIN,
    max: X_MAX,
    afterBuildTicks: (s) => {
      s.ticks = yearLabelPos.map((v) => ({ value: v }));
    },
    afterFit: (s) => {
      s.height = 98;
    },
    ticks: {
      autoSkip: false,
      maxRotation: 0,
      padding: 42,
      color: "#222",
      font: { size: 27 },
      callback: (v, i) => yearLabels[i],
    },
    grid: { display: false, drawTicks: false },
    border: { display: false },
  },
};
// bottom panel first: the last stacked left axis ends up on top
systems
  .slice()
  .reverse()
  .forEach((sys, idx) => {
    scales["y" + sys] = yScale(sys, idx + 1);
  });

// panel frames, month ticks and year lines, drawn with the chart's own scales
const panelFrame = {
  id: "panelFrame",
  beforeDatasetsDraw(chart) {
    const { ctx, scales: sc } = chart;
    const x = sc.x;
    ctx.save();
    ctx.strokeStyle = "#222";
    ctx.lineWidth = 1.6;
    ctx.setLineDash([1.6, 5]);
    systems.forEach((sys) => {
      const ys = sc["y" + sys];
      yearLines.forEach((yr) => {
        const px = Math.round(x.getPixelForValue(yr)) + 0.5;
        ctx.beginPath();
        ctx.moveTo(px, ys.top + 9);
        ctx.lineTo(px, ys.bottom - 2);
        ctx.stroke();
      });
    });
    ctx.restore();
  },
  afterDatasetsDraw(chart) {
    const { ctx, chartArea, scales: sc } = chart;
    const x = sc.x;
    const edges = [sc["y" + systems[0]].top].concat(systems.map((s) => sc["y" + s].bottom));
    const last = edges.length - 1;
    const months = [];
    for (let m = 0; X_MIN + m / 12 <= X_MAX + 1e-6; m++) months.push(X_MIN + m / 12);

    ctx.save();
    // monthly ticks, pointing out of each panel
    ctx.strokeStyle = "#111";
    ctx.lineWidth = 1.4;
    edges.forEach((ey, e) => {
      const up = e === last ? 0 : e === 0 ? 7 : 5;
      const down = e === 0 ? 0 : e === last ? 7 : 5;
      months.forEach((mv) => {
        if (Math.abs(mv - Math.round(mv)) < 1e-6) return;
        const px = Math.round(x.getPixelForValue(mv)) + 0.5;
        ctx.beginPath();
        ctx.moveTo(px, ey - up);
        ctx.lineTo(px, ey + down);
        ctx.stroke();
      });
    });
    // long year ticks
    ctx.strokeStyle = "#555";
    ctx.lineWidth = 1.5;
    edges.forEach((ey, e) => {
      const up = e === last ? 0 : 37;
      const down = e === 0 ? 0 : 37;
      yearLines.forEach((yr) => {
        const px = Math.round(x.getPixelForValue(yr)) + 0.5;
        ctx.beginPath();
        ctx.moveTo(px, ey - up);
        ctx.lineTo(px, ey + down);
        ctx.stroke();
      });
    });
    // heavy panel borders
    ctx.strokeStyle = "#000";
    ctx.lineWidth = 3;
    edges.forEach((ey) => {
      ctx.beginPath();
      ctx.moveTo(chartArea.left - 1.5, ey);
      ctx.lineTo(chartArea.right + 1.5, ey);
      ctx.stroke();
    });
    ctx.beginPath();
    ctx.moveTo(chartArea.right, edges[0]);
    ctx.lineTo(chartArea.right, edges[last]);
    ctx.stroke();
    ctx.restore();
  },
};

const chart = new Chart(document.getElementById("snrChart").getContext("2d"), {
  type: "scatter",
  data: { datasets: buildDatasets() },
  options: {
    responsive: false,
    animation: false,
    devicePixelRatio: 1,
    layout: { padding: { top: 0, left: 0, right: 86, bottom: 0 } },
    scales: scales,
    plugins: {
      legend: { display: false },
      tooltip: { enabled: false },
      title: {
        display: true,
        text: "P802 Daily Avg SNR",
        fullSize: false,
        color: "#222",
        font: { size: 43, weight: "normal", lineHeight: 1 },
        padding: { top: 2, bottom: 9 },
      },
    },
  },
  plugins: [panelFrame],
});

function buildLegend() {
  const box = document.getElementById("legend");
  systems.forEach((sys, c) => {
    const dotX = 214 + c * 207.5;
    const head = document.createElement("div");
    head.className = "legend-head";
    head.textContent = sys;
    head.style.left = dotX + 41 - 70 + "px";
    head.style.top = "1252px";
    box.appendChild(head);
    signals[sys].forEach((sig, k) => {
      const rowY = 1313.5 + k * 34.6;
      const dot = document.createElement("span");
      dot.className = "legend-dot";
      dot.style.left = dotX - 5 + "px";
      dot.style.top = rowY - 5 + "px";
      dot.style.background = signalColors[k];
      box.appendChild(dot);
      const txt = document.createElement("div");
      txt.className = "legend-item";
      txt.textContent = sig;
      txt.style.left = dotX + 17.5 + "px";
      txt.style.top = rowY - 14.7 + "px";
      box.appendChild(txt);
    });
  });
}

buildLegend();
</script>
</body>
</html>
